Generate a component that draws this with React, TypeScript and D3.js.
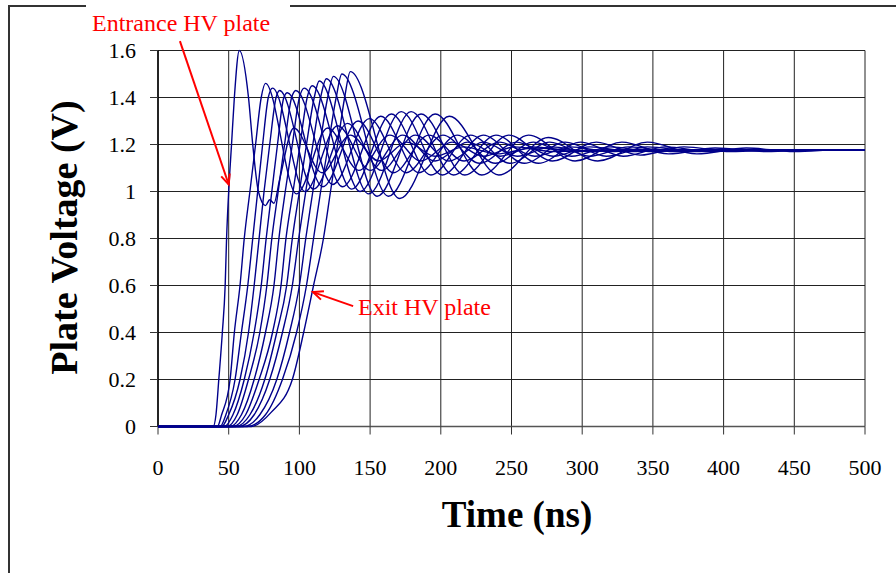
import React from 'react';
import * as d3 from 'd3';

// plate voltage traces, [time ns, volts] at turning points
const plate00: [number, number][] = [[0, 0], [39, 0], [41, 0.05], [43, 0.2], [45.5, 0.4], [47.5, 0.6], [48.5, 0.8], [50, 1.0], [52, 1.2], [54, 1.4], [57.5, 1.6], [64, 1.4], [67, 1.2], [71, 1.0], [76, 0.94], [79, 0.965], [82, 0.95], [86, 1.05], [96, 1.27], [116, 1.08], [136, 1.24], [156, 1.13], [176, 1.21], [196, 1.15], [216, 1.19], [240, 1.16], [265, 1.185], [300, 1.175], [500, 1.175]];
const plate01: [number, number][] = [[0, 0], [42, 0], [45, 0.05], [51, 0.2], [54, 0.4], [58, 0.6], [61, 0.8], [65, 1.0], [69, 1.2], [73, 1.4], [76, 1.46], [98, 0.99], [120, 1.27], [142, 1.09], [164, 1.24], [186, 1.13], [208, 1.21], [230, 1.15], [252, 1.19], [280, 1.17], [320, 1.178], [500, 1.175]];
const plate02: [number, number][] = [[0, 0], [44, 0], [48, 0.05], [54.5, 0.2], [59, 0.4], [63.5, 0.6], [67, 0.8], [70.5, 1.0], [74, 1.2], [78, 1.4], [81, 1.44], [104, 1.0], [127, 1.28], [150, 1.09], [173, 1.24], [196, 1.13], [219, 1.21], [242, 1.15], [265, 1.19], [295, 1.17], [330, 1.178], [500, 1.175]];
const plate03: [number, number][] = [[0, 0], [45, 0], [50, 0.05], [58, 0.2], [64, 0.4], [68, 0.6], [71.5, 0.8], [75, 1.0], [79, 1.2], [83.5, 1.4], [86, 1.43], [110, 1.01], [134, 1.29], [158, 1.09], [182, 1.24], [206, 1.13], [230, 1.21], [254, 1.15], [278, 1.19], [305, 1.17], [340, 1.178], [500, 1.175]];
const plate04: [number, number][] = [[0, 0], [47, 0], [53, 0.05], [61, 0.2], [68, 0.4], [73, 0.6], [76.5, 0.8], [80.5, 1.0], [84.5, 1.2], [89, 1.4], [91.5, 1.42], [116.5, 1.02], [141.5, 1.3], [166.5, 1.08], [191.5, 1.24], [216.5, 1.13], [241.5, 1.21], [266.5, 1.15], [291.5, 1.19], [320, 1.17], [355, 1.178], [500, 1.175]];
const plate05: [number, number][] = [[0, 0], [49, 0], [56, 0.05], [64, 0.2], [72, 0.4], [77, 0.6], [80.5, 0.8], [85, 1.0], [89.5, 1.2], [94.5, 1.4], [97.5, 1.43], [123.5, 1.03], [149.5, 1.31], [175.5, 1.08], [201.5, 1.24], [227.5, 1.12], [253.5, 1.21], [279.5, 1.15], [305.5, 1.19], [335, 1.17], [370, 1.178], [500, 1.175]];
const plate06: [number, number][] = [[0, 0], [51, 0], [59, 0.05], [68, 0.2], [76, 0.4], [82, 0.6], [85.5, 0.8], [90, 1.0], [95, 1.2], [100, 1.4], [103.5, 1.44], [130.5, 1.02], [157.5, 1.32], [184.5, 1.08], [211.5, 1.24], [238.5, 1.12], [265.5, 1.21], [292.5, 1.15], [319.5, 1.19], [350, 1.17], [390, 1.178], [500, 1.175]];
const plate07: [number, number][] = [[0, 0], [53, 0], [62, 0.05], [71.5, 0.2], [81, 0.4], [87, 0.6], [90.5, 0.8], [95.5, 1.0], [100.5, 1.2], [105.5, 1.4], [109, 1.45], [137, 1.01], [165, 1.33], [193, 1.07], [221, 1.24], [249, 1.12], [277, 1.21], [305, 1.15], [333, 1.19], [365, 1.17], [400, 1.178], [500, 1.175]];
const plate08: [number, number][] = [[0, 0], [55, 0], [65, 0.05], [75.5, 0.2], [84, 0.4], [91, 0.6], [95, 0.8], [100, 1.0], [105, 1.2], [110.5, 1.4], [114, 1.47], [143, 1.0], [172, 1.34], [201, 1.07], [230, 1.24], [259, 1.12], [288, 1.21], [317, 1.15], [346, 1.19], [380, 1.17], [415, 1.178], [500, 1.175]];
const plate09: [number, number][] = [[0, 0], [57, 0], [68, 0.05], [79, 0.2], [88, 0.4], [95, 0.6], [99.5, 0.8], [104.5, 1.0], [109.5, 1.2], [115, 1.4], [119, 1.48], [149, 0.99], [179, 1.34], [209, 1.07], [239, 1.24], [269, 1.12], [299, 1.21], [329, 1.15], [359, 1.19], [390, 1.17], [430, 1.178], [500, 1.175]];
const plate10: [number, number][] = [[0, 0], [60, 0], [72, 0.05], [84, 0.2], [93, 0.4], [100, 0.6], [104.5, 0.8], [109.5, 1.0], [114.5, 1.2], [120, 1.4], [124, 1.49], [155, 0.98], [186, 1.33], [217, 1.07], [248, 1.24], [279, 1.13], [310, 1.21], [341, 1.155], [372, 1.19], [405, 1.17], [445, 1.178], [500, 1.175]];
const plate11: [number, number][] = [[0, 0], [63, 0], [76, 0.05], [88, 0.2], [98, 0.4], [105, 0.6], [110, 0.8], [115, 1.0], [120.5, 1.2], [126, 1.4], [130, 1.5], [163, 0.98], [196, 1.33], [229, 1.07], [262, 1.24], [295, 1.13], [328, 1.21], [361, 1.16], [394, 1.185], [430, 1.17], [470, 1.178], [500, 1.175]];
const plate12: [number, number][] = [[0, 0], [66, 0], [80, 0.06], [95, 0.2], [103, 0.4], [110, 0.6], [117, 0.8], [122, 1.0], [127, 1.2], [132, 1.4], [136, 1.51], [171, 0.97], [206, 1.32], [241, 1.07], [276, 1.23], [311, 1.13], [346, 1.21], [381, 1.16], [416, 1.185], [450, 1.17], [485, 1.178], [500, 1.175]];

const plates = [plate00, plate01, plate02, plate03, plate04, plate05, plate06, plate07, plate08, plate09, plate10, plate11, plate12];

const xTicks = [0, 50, 100, 150, 200, 250, 300, 350, 400, 450, 500];
const yTicks = [0, 0.2, 0.4, 0.6, 0.8, 1, 1.2, 1.4, 1.6];

const serif = '"Liberation Serif", "Times New Roman", serif';
const red = '#ff0000';
const navy = '#00008b';

export default function App() {
  const x = d3.scaleLinear().domain([0, 500]).range([158, 865]);
  const y = d3.scaleLinear().domain([0, 1.6]).range([426.5, 50.5]);

  const line = d3.line<[number, number]>()
    .x(d => x(d[0]))
    .y(d => y(d[1]))
    .curve(d3.curveMonotoneX);

  // arrow helper: open V head at the tip
  const arrow = (tail: [number, number], tip: [number, number]) => {
    const [x1, y1] = [x(tail[0]), y(tail[1])];
    const [x2, y2] = [x(tip[0]), y(tip[1])];
    const a = Math.atan2(y2 - y1, x2 - x1);
    const len = 11, spread = 0.42;
    const h1 = [x2 - len * Math.cos(a - spread), y2 - len * Math.sin(a - spread)];
    const h2 = [x2 - len * Math.cos(a + spread), y2 - len * Math.sin(a + spread)];
    return (
      <g stroke={red} strokeWidth={2} fill="none">
        <line x1={x1} y1={y1} x2={x2} y2={y2} />
        <path d={`M${h1[0]},${h1[1]} L${x2},${y2} L${h2[0]},${h2[1]}`} />
      </g>
    );
  };

  return (
    <svg width={896} height={573} style={{ position: 'absolute', left: 0, top: 0, background: '#fff' }} fontFamily={serif}>
      {/* outer frame */}
      <path d="M9,573 L9,6 L896,6" fill="none" stroke="#333" strokeWidth={2} />

      {/* grid */}
      {yTicks.map(t => (
        <line key={'gy' + t} x1={x(0)} x2={x(500)} y1={y(t)} y2={y(t)} stroke="#222" strokeWidth={1} />
      ))}
      {xTicks.map(t => (
        <line key={'gx' + t} x1={x(t)} x2={x(t)} y1={y(0)} y2={y(1.6)} stroke="#222" strokeWidth={1} />
      ))}

      {/* axes and ticks */}
      <line x1={x(0)} x2={x(500)} y1={y(0)} y2={y(0)} stroke="#555" strokeWidth={1.5} />
      <line x1={x(0)} x2={x(0)} y1={y(0)} y2={y(1.6)} stroke="#000" strokeWidth={1.5} />
      {yTicks.map(t => (
        <line key={'ty' + t} x1={x(0) - 8} x2={x(0)} y1={y(t)} y2={y(t)} stroke="#333" strokeWidth={1} />
      ))}
      {xTicks.map(t => (
        <line key={'tx' + t} x1={x(t)} x2={x(t)} y1={y(0)} y2={y(0) + 8} stroke="#333" strokeWidth={1} />
      ))}

      {/* traces */}
      <g fill="none" stroke={navy} strokeWidth={1.4} strokeLinejoin="round">
        {plates.map((p, i) => <path key={i} d={line(p) ?? ''} />)}
      </g>

      {/* tick labels */}
      {yTicks.map(t => (
        <text key={'ly' + t} x={136} y={y(t) + 7.5} textAnchor="end" fontSize={22}>{d3.format('~g')(t)}</text>
      ))}
      {xTicks.map(t => (
        <text key={'lx' + t} x={x(t)} y={474.5} textAnchor="middle" fontSize={22}>{t}</text>
      ))}

      {/* axis titles */}
      <text x={517} y={527} textAnchor="middle" fontSize={37} fontWeight="bold">Time (ns)</text>
      <text transform="translate(77,237.5) rotate(-90)" textAnchor="middle" fontSize={38} fontWeight="bold">Plate Voltage (V)</text>

      {/* annotations */}
      <rect x={86} y={0} width={204} height={14} fill="#fff" />
      <text x={92} y={31} fontSize={24} fill={red}>Entrance HV plate</text>
      {arrow([15.5, 1.64], [50, 1.03])}
      <text x={358} y={315} fontSize={24} fill={red}>Exit HV plate</text>
      {arrow([138, 0.512], [109.6, 0.572])}
    </svg>
  );
}
